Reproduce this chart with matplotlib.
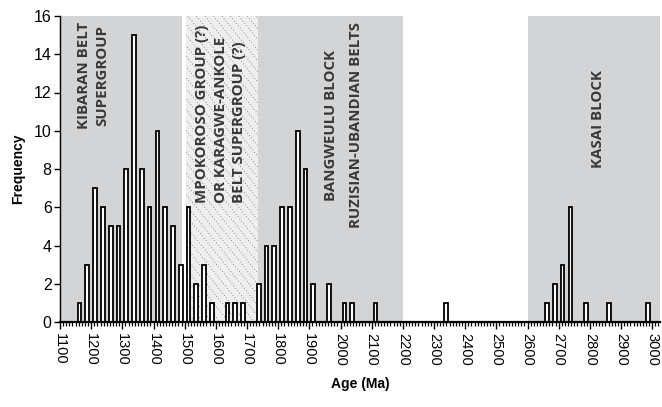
import numpy as np
import matplotlib
matplotlib.use("Agg")
import matplotlib.pyplot as plt
from matplotlib.patches import Rectangle
from matplotlib.ticker import MultipleLocator

# zircon age histogram, 25 Ma bins (bin centres in Ma)
ages = [1162.5, 1187.5, 1212.5, 1237.5, 1262.5, 1287.5, 1312.5, 1337.5,
        1362.5, 1387.5, 1412.5, 1437.5, 1462.5, 1487.5, 1512.5, 1537.5,
        1562.5, 1587.5, 1637.5, 1662.5, 1687.5, 1737.5, 1762.5, 1787.5,
        1812.5, 1837.5, 1862.5, 1887.5, 1912.5, 1962.5, 2012.5, 2037.5,
        2112.5, 2337.5, 2662.5, 2687.5, 2712.5, 2737.5, 2787.5, 2862.5,
        2987.5]
counts = [1, 3, 7, 6, 5, 5, 8, 15, 8, 6, 10, 6, 5, 3, 6, 2,
          3, 1, 1, 1, 1, 2, 4, 4, 6, 6, 10, 8, 2, 2, 1, 1,
          1, 1, 1, 2, 3, 6, 1, 1, 1]

# source domains (start, end in Ma)
kibaran = (1100, 1490)
mpokoroso = (1505, 1735)
bangweulu = (1735, 2200)
kasai = (2600, 3025)

xmin, xmax = 1100, 3025
ymax = 16

plt.rcParams['font.family'] = ['Liberation Sans', 'DejaVu Sans']

fig = plt.figure(figsize=(6.62, 4.07), dpi=100)
ax = fig.add_axes([60 / 662, 1 - 322 / 407, 600 / 662, 306 / 407])
ax.set_xlim(xmin, xmax)
ax.set_ylim(0, ymax)

gray = '#d3d4d6'
for span in (kibaran, bangweulu, kasai):
    ax.add_patch(Rectangle((span[0], 0), span[1] - span[0], ymax,
                           facecolor=gray, edgecolor='none', zorder=0))

hatch_box = Rectangle((mpokoroso[0], 0), mpokoroso[1] - mpokoroso[0], ymax,
                      facecolor='#eeeeee', edgecolor='none', zorder=0)
ax.add_patch(hatch_box)

# dotted diagonal hatching, laid out in pixel space so the angle is fixed
to_px = ax.transData
to_data = ax.transData.inverted()
(bx0, by0) = to_px.transform((mpokoroso[0], 0))
(bx1, by1) = to_px.transform((mpokoroso[1], ymax))
slope = 1.25
step = 8.5
height = by1 - by0
u = bx0 - height / slope
while u < bx1:
    p = to_data.transform([(u, by1), (u + height / slope, by0)])
    ln, = ax.plot(p[:, 0], p[:, 1], color='#555555', lw=0.55,
                  ls=(0, (1, 3)), zorder=1)
    ln.set_clip_path(hatch_box)
    u += step

ax.bar(ages, counts, width=12, facecolor='white', edgecolor='black',
       linewidth=1.3, zorder=3)

label_kw = dict(rotation=90, color='#383838', fontsize=10.8, fontweight='bold',
                family=['Open Sans', 'DejaVu Sans'], zorder=4)
ax.text(1207, 12.9, 'KIBARAN BELT\nSUPERGROUP', ha='center', va='center',
        multialignment='center', linespacing=1.35, **label_kw)
ax.text(1615, 10.9, 'MPOKOROSO GROUP (?)\nOR KARAGWE-ANKOLE\nBELT SUPERGROUP (?)',
        ha='center', va='center', multialignment='left', linespacing=1.4,
        **label_kw)
ax.text(2009, 10.3, 'BANGWEULU BLOCK\nRUZISIAN-UBANDIAN BELTS',
        ha='center', va='center', multialignment='center', linespacing=2.05,
        **label_kw)
ax.text(2826, 10.6, 'KASAI BLOCK', ha='center', va='center', **label_kw)

for side in ('top', 'right'):
    ax.spines[side].set_visible(False)
ax.spines['bottom'].set_linewidth(1.6)
ax.spines['left'].set_linewidth(1.0)
ax.spines['bottom'].set_zorder(5)

ax.xaxis.set_major_locator(MultipleLocator(100))
ax.xaxis.set_minor_locator(MultipleLocator(10))
ax.yaxis.set_major_locator(MultipleLocator(2))
ax.tick_params(axis='x', which='major', direction='out', length=5, width=1.0,
               labelsize=10.5, labelrotation=270, pad=3)
ax.tick_params(axis='x', which='minor', direction='out', length=3, width=0.9)
ax.tick_params(axis='y', direction='out', length=4, width=1.0, labelsize=11.5,
               pad=2)
for lab in ax.get_xticklabels():
    lab.set_family(['Liberation Sans Narrow', 'Liberation Sans'])

ax.set_xlabel('Age (Ma)', fontsize=10, fontweight='bold', labelpad=8)
ax.set_ylabel('Frequency', fontsize=10, fontweight='bold', labelpad=6)

fig.savefig('out.png', dpi=100)
